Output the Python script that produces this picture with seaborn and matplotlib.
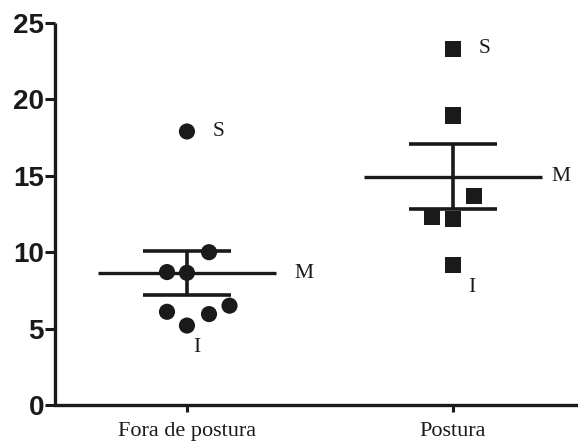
import numpy as np
import pandas as pd
import matplotlib
matplotlib.use("Agg")
import matplotlib.pyplot as plt
import seaborn as sns

# === Data ===
groups = ["Fora de postura", "Postura"]
fora_values = [17.9, 10.0, 8.7, 8.65, 6.1, 5.2, 5.95, 6.5]
postura_values = [23.3, 18.95, 13.65, 12.3, 12.2, 9.15]
# horizontal scatter of the dots inside each column (category units)
fora_jitter = [0.0, 0.083, -0.075, 0.0, -0.075, 0.0, 0.083, 0.16]
postura_jitter = [0.0, 0.0, 0.079, -0.079, 0.0, 0.0]

ink = "#1a1a1a"

df = pd.DataFrame({
    "grupo": [groups[0]] * len(fora_values) + [groups[1]] * len(postura_values),
    "valor": fora_values + postura_values,
    "jit": fora_jitter + postura_jitter,
})
df["pos"] = df["grupo"].map({g: i for i, g in enumerate(groups)}) + df["jit"]

sns.set_style("ticks")
fig = plt.figure(figsize=(5.78, 4.43), dpi=100)
ax = fig.add_axes([55 / 578, 38 / 443, 523 / 578, 382 / 443])

sns.scatterplot(data=df, x="pos", y="valor", style="grupo",
                markers={groups[0]: "o", groups[1]: "s"},
                s=135, color=ink, edgecolor=ink, linewidth=0,
                legend=False, ax=ax, zorder=3)

# mean line + SEM bars
for i, g in enumerate(groups):
    vals = df.loc[df["grupo"] == g, "valor"].to_numpy()
    m = vals.mean()
    sem = vals.std(ddof=1) / np.sqrt(len(vals))
    ax.hlines(m, i - 0.335, i + 0.335, color=ink, lw=2.4, zorder=2)
    ax.errorbar(i, m, yerr=sem, fmt="none", ecolor=ink, elinewidth=2.6,
                capsize=0, zorder=2)
    ax.hlines([m - sem, m + sem], i - 0.165, i + 0.165, color=ink, lw=2.6, zorder=2)
    serif = dict(family="Liberation Serif", fontsize=15.5, color=ink)
    ax.annotate("M", (i + 0.335, m), xytext=(18 if i == 0 else 9, 0),
                textcoords="offset pixels", ha="left", va="center", **serif)
    ax.annotate("S", (i, vals.max()), xytext=(26, 0),
                textcoords="offset pixels", ha="left", va="center", **serif)
    ax.annotate("I", (i, vals.min()), xytext=(10 if i == 0 else 19, -22),
                textcoords="offset pixels", ha="center", va="center", **serif)

ax.set_xlim(-0.496, 1.47)
ax.set_ylim(0, 25)
ax.set_yticks([0, 5, 10, 15, 20, 25])
ax.set_xticks([0, 1])
ax.set_xticklabels(groups, family="Liberation Serif", fontsize=16, color=ink)
for lab in ax.get_yticklabels():
    lab.set_fontfamily("Liberation Sans")
    lab.set_fontweight("bold")
    lab.set_fontsize(20)
    lab.set_color(ink)
ax.set_xlabel("")
ax.set_ylabel("")
ax.tick_params(axis="y", length=7, width=2.2, color=ink, pad=1)
ax.tick_params(axis="x", length=5, width=2.2, color=ink, pad=7)
sns.despine(ax=ax)
for sp in ["left", "bottom"]:
    ax.spines[sp].set_linewidth(2.4)
    ax.spines[sp].set_color(ink)
ax.spines["left"].set_capstyle("butt")

fig.savefig("out.png", dpi=100)
plt.close()
